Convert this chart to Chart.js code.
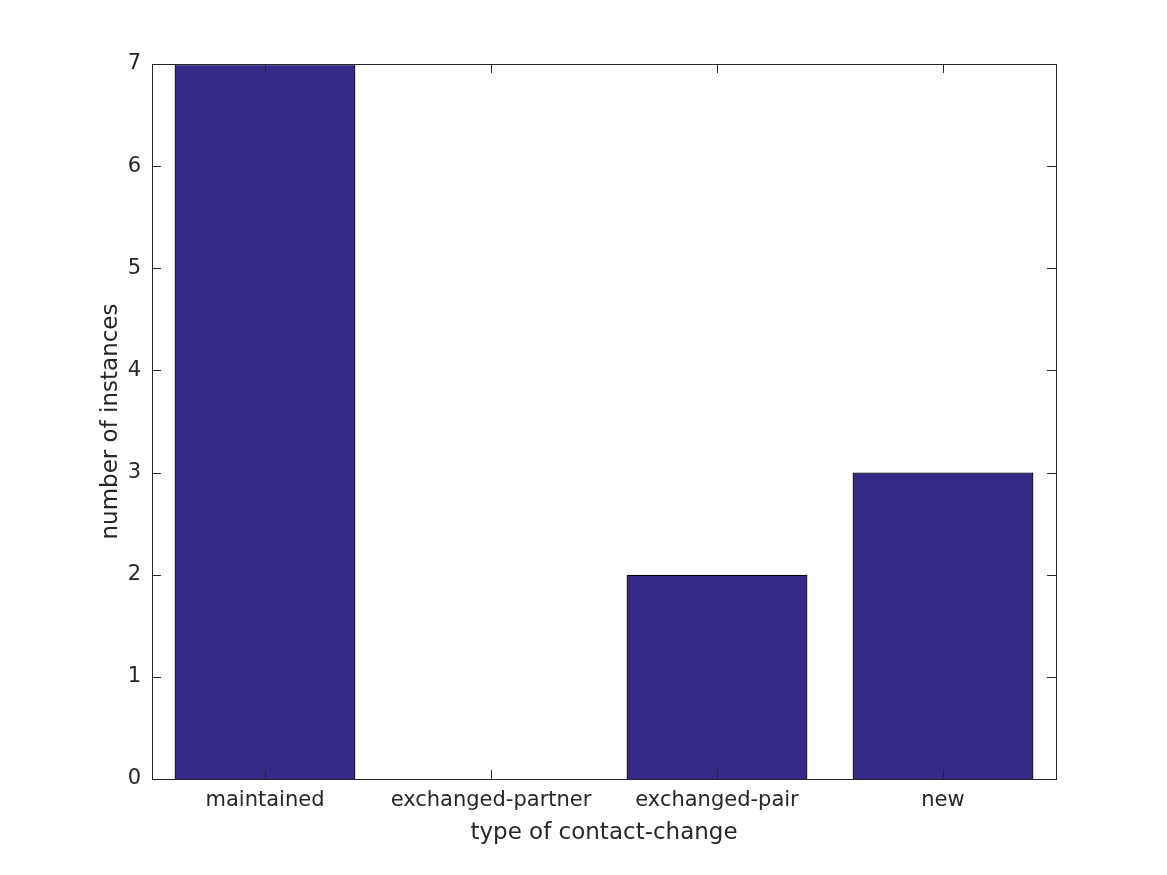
<!DOCTYPE html>
<html>
<head>
<meta charset="utf-8">
<script src="https://cdn.jsdelivr.net/npm/chart.js@4.4.1/dist/chart.umd.min.js"></script>
<style>
html,body{margin:0;padding:0;background:#fff;}
#wrap{width:1167px;height:875px;}
</style>
</head>
<body>
<div id="wrap"><canvas id="c" width="1167" height="875"></canvas></div>
<script>
const categories = ["maintained", "exchanged-partner", "exchanged-pair", "new"];
const counts = [7, 0, 2, 3];
const yTicks = [0, 1, 2, 3, 4, 5, 6, 7];
const xTitle = "type of contact-change";
const yTitle = "number of instances";

const FONT = "'DejaVu Sans', sans-serif";
const TXT = "#262626";

const boxPlugin = {
  id: "boxTicks",
  afterDatasetsDraw(chart) {
    const ctx = chart.ctx, a = chart.chartArea;
    const xs = chart.scales.x, ys = chart.scales.y;
    const L = 9;
    ctx.save();
    ctx.strokeStyle = TXT;
    ctx.lineWidth = 1;
    ctx.beginPath();
    ys.ticks.forEach((t, i) => {
      const y = Math.round(ys.getPixelForTick(i)) + 0.5;
      ctx.moveTo(a.left, y); ctx.lineTo(a.left + L, y);
      ctx.moveTo(a.right, y); ctx.lineTo(a.right - L, y);
    });
    xs.ticks.forEach((t, i) => {
      const x = Math.round(xs.getPixelForTick(i)) + 0.5;
      ctx.moveTo(x, a.bottom); ctx.lineTo(x, a.bottom - L);
      ctx.moveTo(x, a.top); ctx.lineTo(x, a.top + L);
    });
    ctx.stroke();
    ctx.strokeRect(Math.round(a.left) + 0.5, Math.round(a.top) + 0.5, Math.round(a.right - a.left), Math.round(a.bottom - a.top));
    ctx.restore();
  }
};

new Chart(document.getElementById("c"), {
  type: "bar",
  data: {
    labels: categories,
    datasets: [{
      data: counts,
      backgroundColor: "#352a87",
      borderColor: "#000000",
      borderWidth: 1.3,
      barPercentage: 0.8,
      categoryPercentage: 1.0
    }]
  },
  options: {
    responsive: false,
    animation: false,
    devicePixelRatio: 1,
    layout: { padding: { top: 64, right: 111, left: 0, bottom: 0 } },
    plugins: { legend: { display: false }, tooltip: { enabled: false } },
    scales: {
      x: {
        grid: { display: false, drawTicks: false },
        border: { display: false },
        ticks: { color: TXT, font: { family: FONT, size: 21 }, padding: 9, maxRotation: 0 },
        title: { display: true, text: xTitle, color: TXT, font: { family: FONT, size: 23 }, padding: { top: 0, bottom: 28 } },
        afterFit(s) { s.height = 96; }
      },
      y: {
        min: 0, max: 7,
        afterBuildTicks(s) { s.ticks = yTicks.map(v => ({ value: v })); },
        grid: { display: false, drawTicks: false },
        border: { display: false },
        ticks: { color: TXT, font: { family: FONT, size: 21 }, padding: 11 },
        title: { display: true, text: yTitle, color: TXT, font: { family: FONT, size: 23 }, padding: { top: 97, bottom: 0 } },
        afterFit(s) { s.width = 152; }
      }
    }
  },
  plugins: [boxPlugin]
});
</script>
</body>
</html>
